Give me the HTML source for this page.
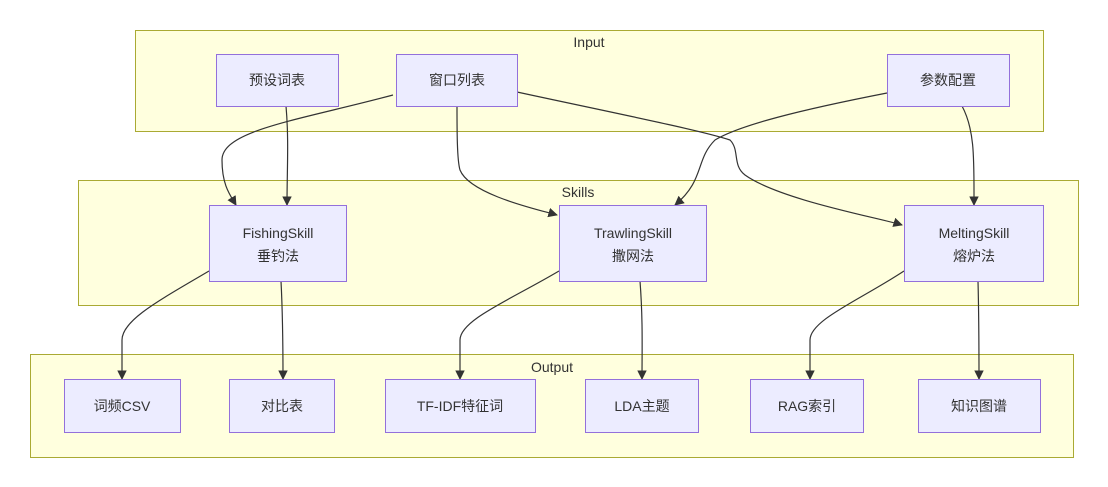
<!DOCTYPE html>
<html><head><meta charset="utf-8"><style>
html,body{margin:0;padding:0;background:#fff;width:1108px;height:487px;overflow:hidden}
svg text{font-family:"Liberation Sans","Noto Sans CJK SC",sans-serif;font-size:14px;fill:#333}
</style></head><body>
<svg width="1108" height="487" viewBox="0 0 1108 487" xmlns="http://www.w3.org/2000/svg">
<defs><marker id="a" viewBox="0 0 10 10" refX="9" refY="5" markerWidth="8" markerHeight="8" orient="auto"><path d="M0,0L10,5L0,10z" fill="#333"/></marker></defs>
<g fill="#ffffde" stroke="#aaaa33" stroke-width="1">
<rect x="135.5" y="30.5" width="908" height="101"/>
<rect x="78.5" y="180.5" width="1000" height="125"/>
<rect x="30.5" y="354.5" width="1043" height="103"/>
</g>
<g text-anchor="middle">
<text x="589" y="47">Input</text>
<text x="578" y="197">Skills</text>
<text x="552" y="372">Output</text>
</g>
<g fill="none" stroke="#333" stroke-width="1.2" marker-end="url(#a)">
<path d="M393,95 C300,120 222,130 222,160 C222,185 230,195 236,205"/>
<path d="M286,106 C289,140 287,170 287,205"/>
<path d="M457,106 C457,130 457,160 460,170 C470,195 540,210 557,215"/>
<path d="M517,92 C600,110 700,130 730,140 C740,150 732,165 745,175 C780,200 880,218 902,225"/>
<path d="M887,93 C800,110 740,125 715,140 C695,160 705,180 675,205"/>
<path d="M962,106 C975,130 974,160 974,205"/>
<path d="M209,271 C160,300 122,320 122,340 L122,379"/>
<path d="M281,281 C283,320 283,350 283,379"/>
<path d="M559,271 C510,300 460,320 460,340 L460,379"/>
<path d="M640,281 C643,320 642,350 642,379"/>
<path d="M904,271 C860,300 810,320 810,340 L810,379"/>
<path d="M978,281 C979,320 979,350 979,379"/>
</g>
<g fill="#ECECFF" stroke="#9370DB" stroke-width="1">
<rect x="216.5" y="54.5" width="122" height="52"/>
<rect x="396.5" y="54.5" width="121" height="52"/>
<rect x="887.5" y="54.5" width="122" height="52"/>
<rect x="209.5" y="205.5" width="137" height="76"/>
<rect x="559.5" y="205.5" width="147" height="76"/>
<rect x="904.5" y="205.5" width="139" height="76"/>
<rect x="64.5" y="379.5" width="116" height="53"/>
<rect x="229.5" y="379.5" width="105" height="53"/>
<rect x="385.5" y="379.5" width="150" height="53"/>
<rect x="585.5" y="379.5" width="113" height="53"/>
<rect x="750.5" y="379.5" width="113" height="53"/>
<rect x="918.5" y="379.5" width="122" height="53"/>
</g>
<g text-anchor="middle">
<text x="277" y="85">预设词表</text>
<text x="457" y="85">窗口列表</text>
<text x="948" y="85">参数配置</text>
<text x="278" y="238">FishingSkill</text><text x="278" y="261">垂钓法</text>
<text x="633" y="238">TrawlingSkill</text><text x="633" y="261">撒网法</text>
<text x="974" y="238">MeltingSkill</text><text x="974" y="261">熔炉法</text>
<text x="122" y="411">词频CSV</text>
<text x="282" y="411">对比表</text>
<text x="460" y="411">TF-IDF特征词</text>
<text x="642" y="411">LDA主题</text>
<text x="807" y="411">RAG索引</text>
<text x="979" y="411">知识图谱</text>
</g>
</svg>
</body></html>
